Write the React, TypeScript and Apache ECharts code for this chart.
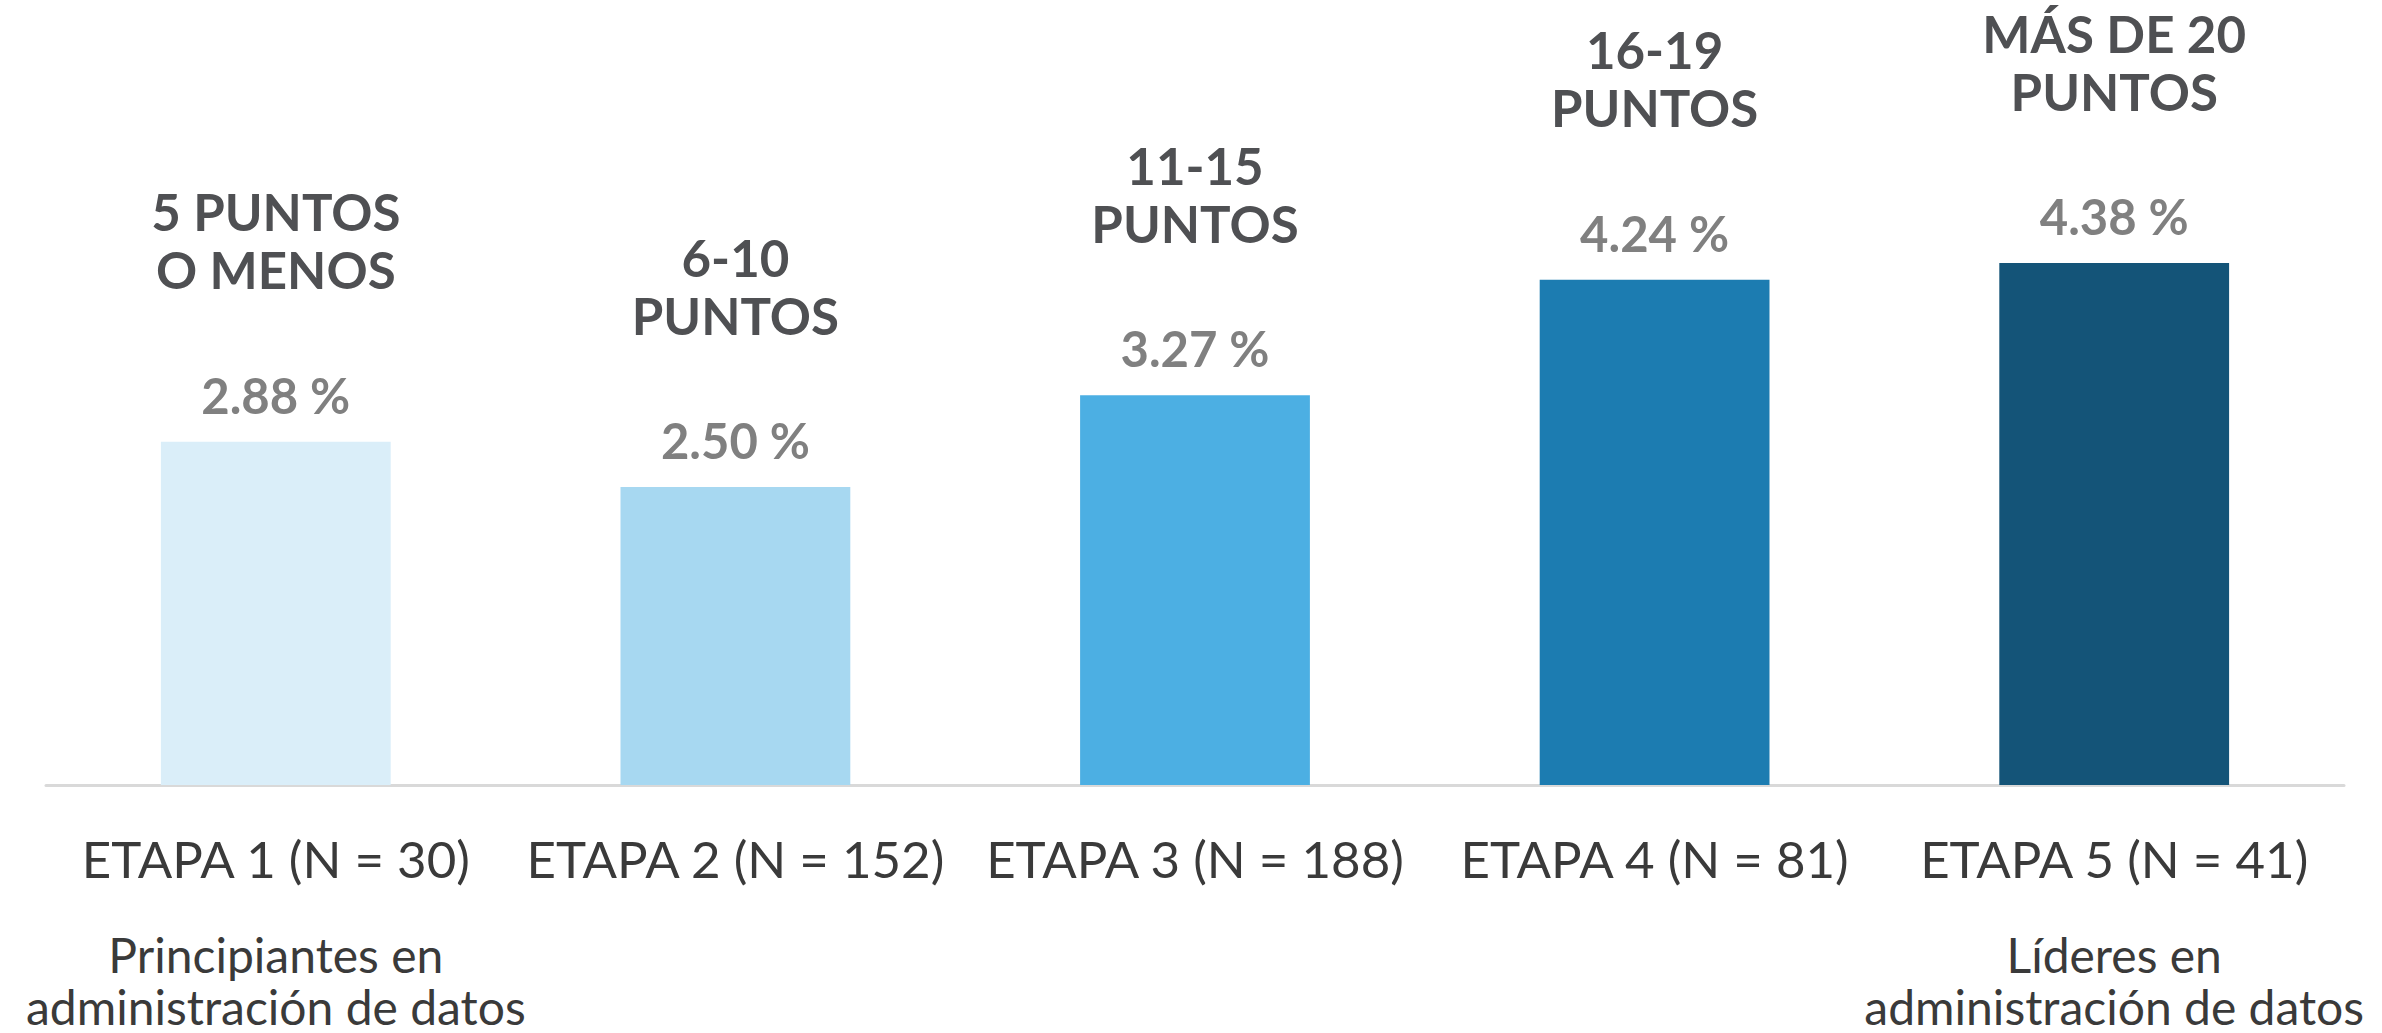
import React, { useEffect, useRef } from "react";
import * as echarts from "echarts";

const categories = [
  "ETAPA 1 (N = 30)",
  "ETAPA 2 (N = 152)",
  "ETAPA 3 (N = 188)",
  "ETAPA 4 (N = 81)",
  "ETAPA 5 (N = 41)",
];
const headers = [
  "5 PUNTOS\nO MENOS",
  "6-10\nPUNTOS",
  "11-15\nPUNTOS",
  "16-19\nPUNTOS",
  "MÁS DE 20\nPUNTOS",
];
const values = [2.88, 2.5, 3.27, 4.24, 4.38];
const descriptions = [
  ["Principiantes en", "administración de datos"],
  [],
  [],
  [],
  ["Líderes en", "administración de datos"],
];
const palette = ["#daeef9", "#a7d8f1", "#4cafe3", "#1c7cb1", "#145478"];

const FONT = "Lato, 'Noto Sans', sans-serif";

export default function App() {
  const ref = useRef<HTMLDivElement>(null);
  useEffect(() => {
    if (!ref.current) return;
    const chart = echarts.init(ref.current, undefined, { renderer: "svg" });
    chart.setOption({
      animation: false,
      backgroundColor: "#ffffff",
      grid: { left: 46, right: 38, top: 70, bottom: 248, containLabel: false },
      xAxis: {
        type: "category",
        data: categories,
        axisTick: { show: false },
        axisLine: { show: true, lineStyle: { color: "#d9d9d9", width: 3 } },
        axisLabel: {
          interval: 0,
          margin: 43,
          fontFamily: FONT,
          formatter: (val: string, idx: number) => {
            const d = descriptions[idx];
            if (d && d.length) {
              return `{a|${val}}\n{g| }\n` + d.map((l) => `{b|${l}}`).join("\n");
            }
            return `{a|${val}}`;
          },
          rich: {
            a: { fontFamily: FONT, fontSize: 51, lineHeight: 60, color: "#3a3a3a" },
            g: { fontSize: 10, lineHeight: 40 },
            b: { fontFamily: FONT, fontSize: 48, lineHeight: 52, color: "#3a3a3a" },
          },
        },
      },
      yAxis: {
        type: "value",
        min: 0,
        max: 6,
        show: false,
        splitLine: { show: false },
      },
      series: [
        {
          type: "bar",
          barWidth: "50%",
          data: values.map((v, i) => ({ value: v, itemStyle: { color: palette[i] } })),
          label: {
            show: true,
            position: "top",
            distance: 22,
            align: "center",
            formatter: (p: any) =>
              `{h|${headers[p.dataIndex]}}\n{g| }\n{v|${values[p.dataIndex].toFixed(2)} %}`,
            rich: {
              h: {
                fontFamily: FONT,
                fontSize: 51,
                fontWeight: "bold",
                lineHeight: 58,
                color: "#4f5053",
                align: "center",
              },
              g: { fontSize: 10, lineHeight: 71 },
              v: {
                fontFamily: FONT,
                fontSize: 49,
                fontWeight: "bold",
                lineHeight: 50,
                color: "#808080",
                align: "center",
              },
            },
          },
        },
      ],
    });
    return () => chart.dispose();
  }, []);
  return (
    <div
      ref={ref}
      style={{ position: "fixed", left: 0, top: 0, width: 2382, height: 1033, background: "#fff" }}
    />
  );
}
